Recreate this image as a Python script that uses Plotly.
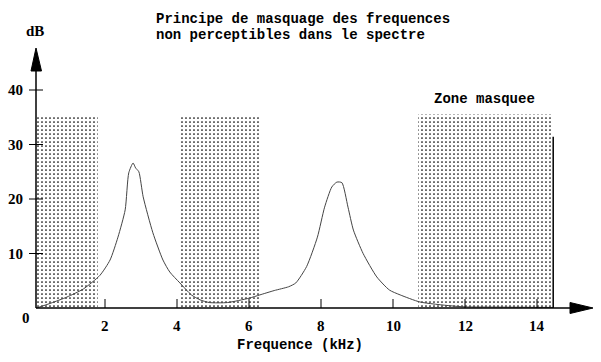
import plotly.graph_objects as go

# ---- data ----
freq_khz = [0.1, 0.5, 0.94, 1.4, 1.86, 2.14, 2.36, 2.56, 2.66, 2.78, 2.85, 2.94, 3.06, 3.33,
            3.61, 3.8, 4.08, 4.4, 4.64, 4.9, 5.4, 6.0, 6.3, 6.7, 7.1, 7.3, 7.6, 7.9, 8.1,
            8.3, 8.44, 8.58, 8.75, 8.9, 9.17, 9.55, 9.9, 10.2, 10.75, 11.6, 12.0, 13.0, 14.45]
level_db = [0.0, 0.9, 2.0, 3.5, 6.0, 8.8, 13.0, 18.0, 24.8, 26.6, 25.7, 25.0, 20.4, 13.8,
            8.8, 6.6, 4.6, 2.4, 1.5, 1.0, 1.0, 1.8, 2.4, 3.2, 3.9, 4.6, 7.6, 13.0, 18.5,
            22.2, 23.1, 23.0, 18.5, 14.3, 10.0, 5.7, 3.3, 2.4, 1.1, 0.4, 0.2, 0.15, 0.1]

zone_start = [0.1, 4.1, 10.7]
zone_end = [1.8, 6.3, 14.4]
zone_top = [35.3, 35.3, 35.5]

x_ticks = [2, 4, 6, 8, 10, 12, 14]
y_ticks = [10, 20, 30, 40]
limit_freq = 14.45
limit_db = 31.4

title_lines = ["Principe de masquage des frequences", "non perceptibles dans le spectre"]
x_label = "Frequence (kHz)"
y_label = "dB"
zone_label = "Zone masquee"

# ---- scales (pixel geometry of the 601x362 canvas) ----
W, H = 601, 362
X_RANGE = [-33 / 36, (W - 33) / 36]
Y_RANGE = [(308 - H) / 5.45, 308 / 5.45]


def dx(px):
    return X_RANGE[0] + px / W * (X_RANGE[1] - X_RANGE[0])


def dy(py):
    return Y_RANGE[1] - py / H * (Y_RANGE[1] - Y_RANGE[0])


fig = go.Figure()

# masked zones
for s, e, t in zip(zone_start, zone_end, zone_top):
    fig.add_trace(go.Scatter(
        x=[s, e, e, s, s], y=[0, 0, t, t, 0], mode="lines", fill="toself",
        line=dict(width=0, color="rgba(0,0,0,0)"), fillcolor="white",
        fillpattern=dict(shape=".", size=4, solidity=0.15, fgcolor="black", bgcolor="white",
                         fgopacity=1),
        hoverinfo="skip", showlegend=False))

# spectrum curve
fig.add_trace(go.Scatter(x=freq_khz, y=level_db, mode="lines",
                         line=dict(color="#444444", width=1, shape="spline", smoothing=0.6),
                         showlegend=False, hoverinfo="skip"))

shapes = []
AX = dx(36)
# axes lines
shapes.append(dict(type="line", x0=AX, x1=dx(571), y0=0, y1=0, line=dict(color="black", width=1.5)))
shapes.append(dict(type="line", x0=AX, x1=AX, y0=0, y1=dy(69), line=dict(color="black", width=1.5)))
# arrow heads
shapes.append(dict(type="path",
                   path=f"M {dx(570)} {dy(302.5)} L {dx(593)} {dy(308)} L {dx(570)} {dy(313.5)} Z",
                   fillcolor="black", line=dict(color="black", width=1)))
shapes.append(dict(type="path",
                   path=f"M {dx(31)} {dy(71)} L {dx(36)} {dy(48)} L {dx(41.5)} {dy(71)} Z",
                   fillcolor="black", line=dict(color="black", width=1)))
# x ticks (upwards)
for t in x_ticks:
    shapes.append(dict(type="line", x0=t, x1=t, y0=0, y1=dy(299), line=dict(color="black", width=1)))
# y ticks (crossing)
for t in y_ticks:
    shapes.append(dict(type="line", x0=dx(29), x1=dx(43), y0=t, y1=t, line=dict(color="black", width=1)))
# limit line
shapes.append(dict(type="line", x0=limit_freq, x1=limit_freq, y0=0, y1=limit_db,
                   line=dict(color="black", width=1.5)))

ann = []
num_font = dict(family="Liberation Serif", size=15, color="black")
mono_font = dict(family="Liberation Mono", size=14, color="black")
for t in x_ticks:
    ann.append(dict(x=t, y=dy(326), text=f"<b>{t}</b>", showarrow=False, font=num_font,
                    xanchor="center", yanchor="middle"))
for t in y_ticks:
    ann.append(dict(x=dx(25), y=t, text=f"<b>{t}</b>", showarrow=False, font=num_font,
                    xanchor="right", yanchor="middle"))
ann.append(dict(x=dx(26), y=dy(318), text="<b>0</b>", showarrow=False, font=num_font,
                xanchor="center", yanchor="middle"))
ann.append(dict(x=dx(35), y=dy(31), text=f"<b>{y_label}</b>", showarrow=False, font=num_font,
                xanchor="center", yanchor="middle"))
ann.append(dict(x=dx(300), y=dy(345), text=f"<b>{x_label}</b>", showarrow=False, font=mono_font,
                xanchor="center", yanchor="middle"))
ann.append(dict(x=dx(432), y=dy(99), text=f"<b>{zone_label}</b>", showarrow=False, font=mono_font,
                xanchor="left", yanchor="middle"))
for i, line in enumerate(title_lines):
    ann.append(dict(x=dx(154), y=dy(19 + 16 * i), text=f"<b>{line}</b>", showarrow=False,
                    font=mono_font, xanchor="left", yanchor="middle"))

fig.update_layout(
    width=W, height=H, margin=dict(l=0, r=0, t=0, b=0),
    paper_bgcolor="white", plot_bgcolor="white",
    xaxis=dict(range=X_RANGE, visible=False, fixedrange=True),
    yaxis=dict(range=Y_RANGE, visible=False, fixedrange=True),
    shapes=shapes, annotations=ann, showlegend=False,
)

fig.write_html("out.html")
